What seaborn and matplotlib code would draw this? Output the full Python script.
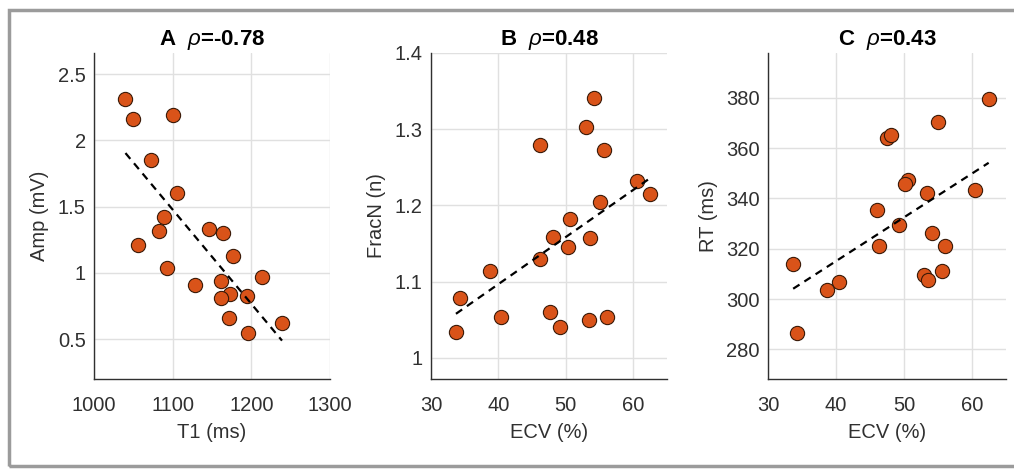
import numpy as np
import pandas as pd
import matplotlib
matplotlib.use("Agg")
import matplotlib.pyplot as plt
import seaborn as sns
from matplotlib.patches import Rectangle

# ---------------- data ----------------
t1_a = [1040, 1050, 1100, 1072, 1105, 1089, 1082, 1146, 1164, 1056, 1177,
        1093, 1213, 1128, 1162, 1173, 1162, 1194, 1171, 1196, 1239]
amp_a = [2.31, 2.16, 2.19, 1.85, 1.60, 1.42, 1.32, 1.33, 1.30, 1.21, 1.125,
         1.035, 0.967, 0.909, 0.942, 0.844, 0.814, 0.826, 0.66, 0.547, 0.62]

ecv_b = [54.1, 53.0, 46.1, 55.6, 60.5, 62.5, 55.0, 50.6, 48.1, 53.6, 50.3,
         46.2, 38.7, 34.3, 33.7, 40.4, 47.6, 49.1, 53.4, 56.1]
fracn_b = [1.341, 1.303, 1.279, 1.272, 1.232, 1.215, 1.205, 1.182, 1.158, 1.157,
           1.145, 1.129, 1.114, 1.078, 1.034, 1.053, 1.060, 1.040, 1.049, 1.054]

ecv_c = [62.45, 55.0, 47.5, 48.05, 50.6, 50.2, 53.4, 60.4, 46.0, 49.2, 54.1,
         46.3, 56.1, 33.7, 55.6, 52.9, 53.5, 40.4, 38.7, 34.3]
rt_c = [379.5, 370.5, 364.0, 365.2, 347.4, 345.6, 342.2, 343.3, 335.2, 329.3,
        326.1, 321.1, 321.1, 313.9, 311.0, 309.4, 307.6, 306.8, 303.4, 286.6]

titles = ["A  $\\rho$=-0.78", "B  $\\rho$=0.48", "C  $\\rho$=0.43"]
xlabels = ["T1 (ms)", "ECV (%)", "ECV (%)"]
ylabels = ["Amp (mV)", "FracN (n)", "RT (ms)"]
xticks = [[1000, 1100, 1200, 1300], [30, 40, 50, 60], [30, 40, 50, 60]]
yticks = [[0.5, 1, 1.5, 2, 2.5], [1, 1.1, 1.2, 1.3, 1.4], [280, 300, 320, 340, 360, 380]]
xlims = [(1000, 1300), (30, 65), (30, 65)]
ylims = [(0.2, 2.66), (0.972, 1.4), (268.2, 397.8)]

# ---------------- style ----------------
sns.set_theme(style="white")
plt.rcParams["font.family"] = ["Liberation Sans", "DejaVu Sans"]
plt.rcParams["mathtext.fontset"] = "custom"
plt.rcParams["mathtext.rm"] = "Liberation Sans"
plt.rcParams["mathtext.it"] = "Liberation Sans:italic"
plt.rcParams["mathtext.bf"] = "Liberation Sans:bold"

txt = "#303030"
marker_col = "#D95319"

fig = plt.figure(figsize=(10.14, 4.70), dpi=100)
W, H = 1014, 470
lefts = [94, 431, 768]
rights = [330, 667, 1006]
top, bottom = 53, 379

datasets = [
    pd.DataFrame({"x": t1_a, "y": amp_a}),
    pd.DataFrame({"x": ecv_b, "y": fracn_b}),
    pd.DataFrame({"x": ecv_c, "y": rt_c}),
]

for i, df in enumerate(datasets):
    ax = fig.add_axes([lefts[i] / W, 1 - bottom / H,
                       (rights[i] - lefts[i]) / W, (bottom - top) / H])
    ax.set_xlim(*xlims[i])
    ax.set_ylim(*ylims[i])
    ax.set_xticks(xticks[i])
    ax.set_yticks(yticks[i])
    ax.set_yticklabels([f"{v:g}" for v in yticks[i]])
    ax.grid(True, color="#e0e0e0", linewidth=1.0, zorder=0)
    ax.set_axisbelow(True)
    sns.scatterplot(data=df, x="x", y="y", ax=ax, s=105, color=marker_col,
                    edgecolor="#3a1a08", linewidth=0.8, zorder=3, legend=False)
    sns.regplot(data=df, x="x", y="y", ax=ax, scatter=False, ci=None,
                truncate=True, color="black",
                line_kws=dict(linestyle=(0, (3.4, 2.6)), linewidth=1.6, zorder=4))
    ax.set_xlim(*xlims[i])
    ax.set_ylim(*ylims[i])
    for s in ["top", "right"]:
        ax.spines[s].set_visible(False)
    for s in ["left", "bottom"]:
        ax.spines[s].set_color(txt)
        ax.spines[s].set_linewidth(1.0)
    ax.tick_params(axis="both", direction="in", length=3, width=0.8,
                   colors=txt, labelsize=14.5)
    ax.tick_params(axis="x", pad=12.5)
    ax.tick_params(axis="y", pad=6)
    ax.set_xlabel(xlabels[i], fontsize=14.5, color=txt, labelpad=5.5)
    ax.set_ylabel(ylabels[i], fontsize=14.5, color=txt, labelpad=6)
    ax.set_title(titles[i], fontsize=16, fontweight="bold", color="black", pad=6)

# outer gray frame (right side falls outside the image)
fig.patches.append(Rectangle((9 / W, 1 - 466 / H), 1.2, (466 - 10) / H,
                             transform=fig.transFigure, fill=False,
                             edgecolor="#9b9b9b", linewidth=2.5, zorder=10))

fig.savefig("out.png", dpi=100)
